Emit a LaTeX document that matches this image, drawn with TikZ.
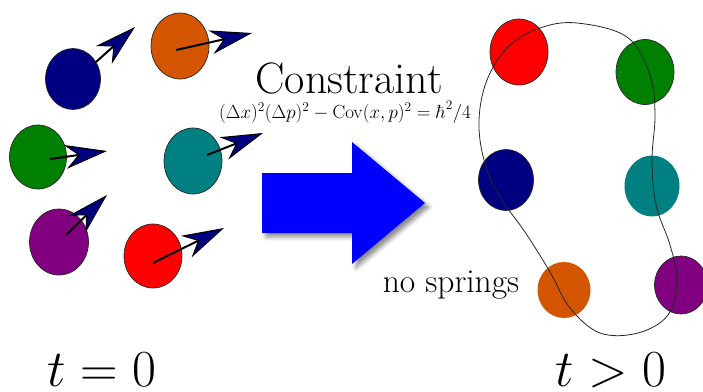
\RequirePackage{fix-cm}
\documentclass[tikz,border=0pt]{standalone}
\usetikzlibrary{shapes.geometric,arrows.meta,shadows.blur}
\definecolor{cnavy}{RGB}{0,0,128}
\definecolor{corange}{RGB}{212,85,0}
\definecolor{cgreen}{RGB}{0,128,0}
\definecolor{cteal}{RGB}{0,128,128}
\definecolor{cpurple}{RGB}{128,0,128}
\definecolor{cred}{RGB}{255,0,0}
\definecolor{cblue}{RGB}{0,0,255}
\tikzset{
  ball/.style={ellipse, draw=black!85, line width=0.7pt, inner sep=0pt},
  bareball/.style={ellipse, inner sep=0pt},
  vel/.style={line width=2pt, black, -{Stealth[length=42pt,width=24pt,inset=13pt,fill=cnavy,line width=1pt]}},
}
\begin{document}
\begin{tikzpicture}[x=1pt,y=-1pt]
\useasboundingbox (0,0) rectangle (703,391);
% left: t = 0
\node[ball, fill=cnavy, minimum width=55pt, minimum height=61pt] (l1) at (73,79) {};
\node[ball, fill=corange, minimum width=58pt, minimum height=66pt] (l2) at (180,46) {};
\node[ball, fill=cgreen, minimum width=57pt, minimum height=64pt] (l3) at (38,157) {};
\node[ball, fill=cteal, minimum width=58pt, minimum height=66pt] (l4) at (193,161) {};
\node[ball, fill=cpurple, minimum width=59pt, minimum height=66pt] (l5) at (59,242) {};
\node[ball, fill=cred, minimum width=58pt, minimum height=64pt] (l6) at (153,256) {};
\coordinate (s1) at (96,62);   \coordinate (e1) at (135,27);
\coordinate (s2) at (176,50);  \coordinate (e2) at (252,33);
\coordinate (s3) at (50,159);  \coordinate (e3) at (107,151);
\coordinate (s4) at (207,155); \coordinate (e4) at (263,133);
\coordinate (s5) at (66,235);  \coordinate (e5) at (107,195);
\coordinate (s6) at (153,263); \coordinate (e6) at (224,228);
\foreach \i in {1,...,6} {\draw[vel] (s\i) -- (e\i);}
% big arrow
\path[fill=cblue, blur shadow={shadow xshift=4pt, shadow yshift=-4pt, shadow blur radius=4pt, shadow opacity=45}]
  (262,173) -- (352,173) -- (352,142) -- (425,203) -- (352,264) -- (352,233) -- (262,233) -- cycle;
\node[anchor=base, inner sep=0pt] (title) at (349,93) {\fontsize{44}{44}\selectfont Constraint};
\node[anchor=base, inner sep=0pt] (eq) at (345,118) {\fontsize{19}{19}\selectfont $(\Delta x)^2(\Delta p)^2-\mathrm{Cov}(x,p)^2=\hbar^2/4$};
\node[anchor=base, inner sep=0pt] (ns) at (451,292) {\fontsize{33.5}{34}\selectfont no springs};
% right: t > 0
\node[ball, fill=cred, minimum width=58pt, minimum height=66pt] (r1) at (519,52) {};
\node[ball, fill=cgreen, minimum width=58pt, minimum height=65pt] (r2) at (645,72) {};
\node[ball, fill=cnavy, minimum width=55pt, minimum height=61pt] (r3) at (506,180) {};
\node[bareball, fill=cteal, minimum width=55pt, minimum height=61pt] (r4) at (652,186) {};
\node[bareball, fill=corange, minimum width=53pt, minimum height=56pt] (r5) at (564,290) {};
\node[ball, fill=cpurple, minimum width=53pt, minimum height=58pt] (r6) at (681,285) {};
\draw[black!85, line width=0.8pt] plot[smooth cycle, tension=0.6] coordinates {
  (577,23) (627,37) (650,75) (655,115) (652,160) (656,205) (670,245) (677,280)
  (668,315) (638,333) (600,333) (570,308) (550,272) (525,232) (500,197)
  (484,160) (479,120) (487,80) (508,47) (540,28)};
% time labels
\node[anchor=base, inner sep=0pt] (t0) at (102,386) {\fontsize{52}{52}\selectfont $t=0$};
\node[anchor=base, inner sep=0pt] (t1) at (611,386) {\fontsize{52}{52}\selectfont $t>0$};
\end{tikzpicture}
\end{document}
